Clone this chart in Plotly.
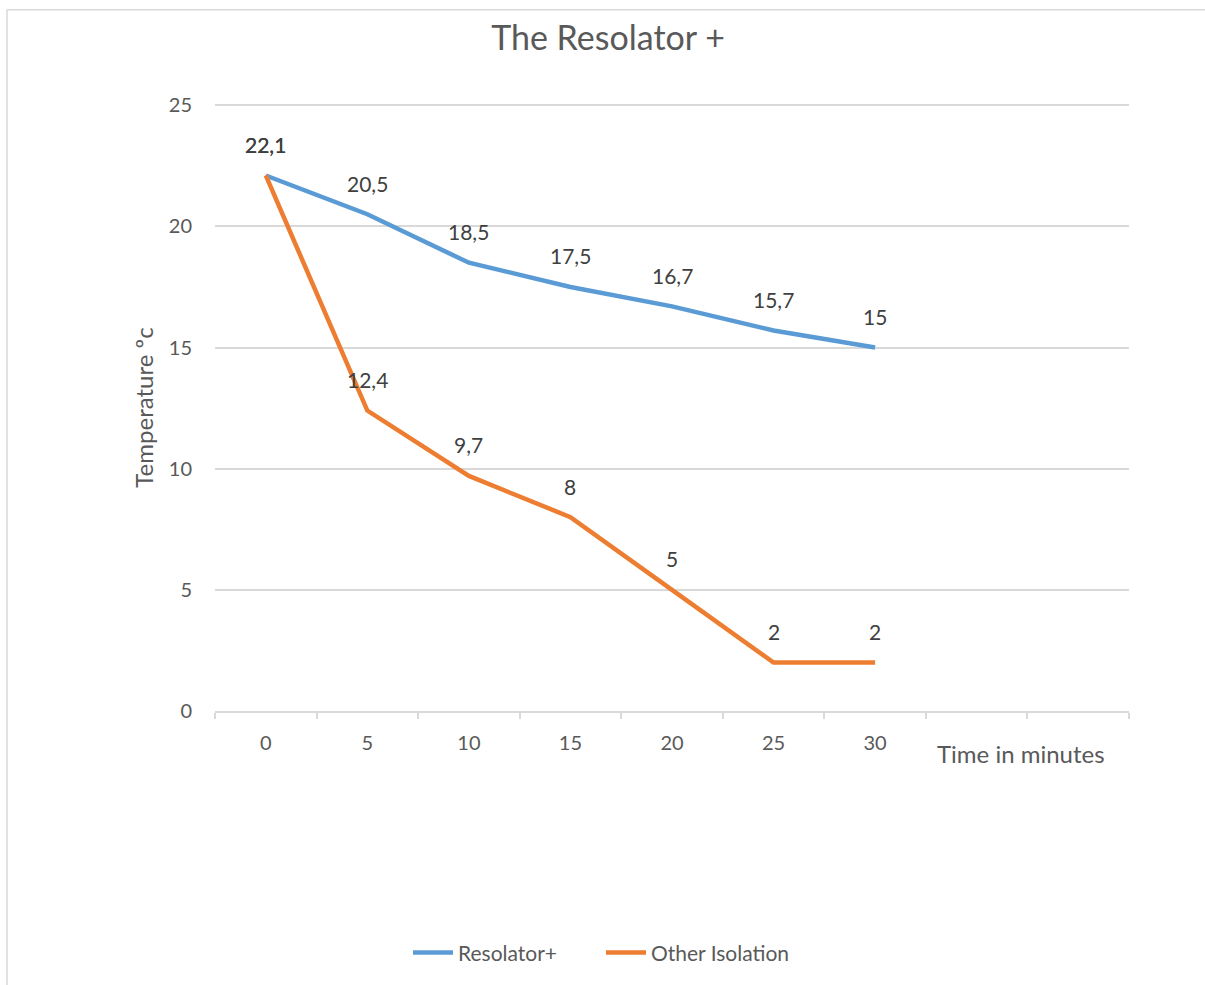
import plotly.graph_objects as go

# Data
categories = ["0", "5", "10", "15", "20", "25", "30", "", ""]
resolator = [22.1, 20.5, 18.5, 17.5, 16.7, 15.7, 15.0]
other = [22.1, 12.4, 9.7, 8.0, 5.0, 2.0, 2.0]
series_names = ["Resolator+", "Other Isolation"]
colors = ["#5B9BD5", "#ED7D31"]

W, H = 1205, 985
YMAX = 25.05
L, R, B = 215, 1129, 711
T = B - (B - 105) * YMAX / 25.0

FONT = "Lato, Noto Sans, sans-serif"

def fmt(v):
    return ("%g" % v).replace(".", ",")

xpos = list(range(len(categories)))

fig = go.Figure()
for name, vals, col in zip(series_names, [resolator, other], colors):
    fig.add_trace(go.Scatter(
        x=xpos[:len(vals)], y=vals, mode="lines", name=name,
        line=dict(color=col, width=4.5),
    ))

annotations = []
for vals in [resolator, other]:
    for i, v in enumerate(vals):
        annotations.append(dict(
            x=xpos[i], y=v, xref="x", yref="y", text=fmt(v), showarrow=False,
            yshift=31, font=dict(family=FONT, size=21, color="#404040"),
        ))

def px_x(p):
    return (p - L) / (R - L)

def px_y(p):
    return (B - p) / (B - T)

annotations.append(dict(
    x=px_x(1021), y=px_y(754), xref="paper", yref="paper",
    text="Time in minutes", showarrow=False, xanchor="center", yanchor="middle",
    font=dict(family=FONT, size=24, color="#595959"),
))

shapes = [
    dict(type="line", xref="paper", yref="paper", x0=px_x(7), x1=px_x(7), y0=px_y(9.5), y1=px_y(990),
         line=dict(color="#D9D9D9", width=1.5)),
    dict(type="line", xref="paper", yref="paper", x0=px_x(7), x1=px_x(1210), y0=px_y(9.5), y1=px_y(9.5),
         line=dict(color="#D9D9D9", width=1.5)),
]

fig.update_layout(
    width=W, height=H,
    margin=dict(l=L, r=W - R, t=T, b=H - B),
    paper_bgcolor="white", plot_bgcolor="white",
    font=dict(family=FONT, color="#595959"),
    title=dict(text="The Resolator +", x=608 / W, xanchor="center", y=1 - 38 / H, yanchor="middle",
               font=dict(size=34, color="#595959")),
    showlegend=True,
    legend=dict(orientation="h", x=px_x(408), xanchor="left", y=px_y(953), yanchor="middle",
                font=dict(size=21, color="#595959"), itemwidth=40,
                entrywidth=138, entrywidthmode="pixels"),
    annotations=annotations,
    shapes=shapes,
)

fig.update_xaxes(
    range=[-0.5, len(categories) - 0.5],
    tickmode="array", tickvals=xpos, ticktext=categories,
    showgrid=False, zeroline=False,
    showline=True, linecolor="#D9D9D9", linewidth=1.5,
    ticks="", ticklabelstandoff=13,
    tickfont=dict(size=20, color="#595959"),
    minor=dict(ticks="outside", tickmode="linear", tick0=-0.5, dtick=1, ticklen=6,
               tickcolor="#D9D9D9", tickwidth=1.5, showgrid=False),
)
fig.update_yaxes(
    range=[0, YMAX], tickmode="array", tickvals=[0, 5, 10, 15, 20, 25],
    showgrid=True, gridcolor="#D9D9D9", gridwidth=1.5,
    zeroline=False, showline=False, ticks="", ticklabelstandoff=22,
    tickfont=dict(size=20, color="#595959"),
    title=dict(text="Temperature ºc", font=dict(size=24, color="#595959"), standoff=8),
)

fig.write_html("out.html", config={"displayModeBar": False},
               post_script="document.body.style.margin='0';")
